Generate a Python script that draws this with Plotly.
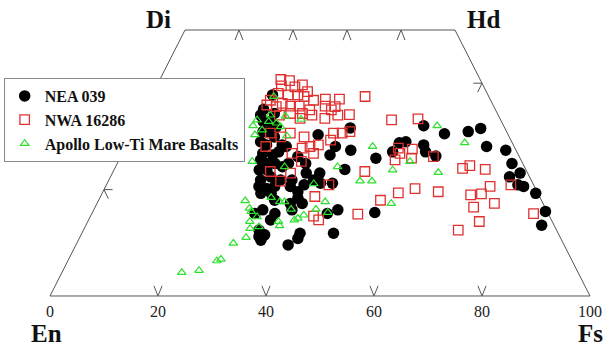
import plotly.graph_objects as go

# ---------------- data (Fs, Wo in mol%) ----------------
nea_fs = [22.3, 22.0, 24.4, 23.1, 24.4, 26.0, 24.0, 25.0, 26.6, 24.5, 25.9, 28.8, 29.7, 26.0, 28.0,
          26.2, 27.7, 29.2, 31.7, 26.9, 28.3, 29.7, 28.1, 31.8, 33.9, 28.4, 30.0, 31.3, 34.2, 29.4,
          31.3, 36.1, 36.6, 35.9, 37.9, 38.4, 34.5, 32.8, 34.9, 35.8, 36.7, 36.7, 38.0, 31.3, 33.9,
          33.7, 30.2, 33.1, 34.0, 33.8, 39.3, 40.5, 40.4, 46.6, 45.2, 43.6, 39.5, 41.7, 38.6, 38.8,
          42.0, 42.7, 39.8, 47.4, 52.3, 49.9, 50.3, 51.4, 53.2, 55.0, 56.0, 58.3, 57.8, 62.0, 64.0,
          66.8, 70.7, 73.1, 75.5, 73.9, 77.4, 76.2, 80.3, 83.8, 84.4, 28.8, 32.5, 32.6, 22.0, 30.9]
nea_wo = [37.8, 35.1, 34.3, 32.8, 32.8, 31.8, 30.9, 30.9, 29.9, 29.0, 28.4, 28.4, 28.1, 26.8, 26.5,
          25.6, 24.9, 24.9, 24.9, 23.7, 23.7, 22.4, 21.8, 21.8, 21.8, 20.6, 20.2, 20.6, 20.6, 19.3,
          19.3, 19.6, 20.9, 23.1, 21.8, 23.1, 30.3, 26.2, 24.9, 17.4, 18.4, 16.2, 17.4, 16.2, 15.5,
          14.3, 15.5, 11.2, 11.5, 10.5, 9.6, 10.8, 11.8, 11.8, 16.2, 15.5, 21.2, 21.2, 26.5, 28.1,
          27.4, 23.8, 31.6, 25.9, 15.7, 27.1, 28.8, 29.0, 32.0, 28.4, 27.1, 26.3, 30.5, 30.9, 31.5,
          28.1, 27.4, 24.9, 23.1, 22.4, 20.6, 20.9, 19.3, 15.9, 13.3, 27.1, 12.4, 18.0, 34.0, 24.3]

nwa_fs = [22.4, 24.1, 23.1, 25.7, 26.9, 28.5, 25.2, 27.0, 28.3, 23.2, 22.4, 22.2, 24.1, 24.9, 26.7,
          28.3, 30.6, 30.4, 29.6, 27.4, 25.5, 29.6, 31.5, 32.5, 35.1, 35.0, 33.1, 34.6, 36.3, 38.4,
          34.2, 39.6, 46.7, 51.5, 25.5, 27.8, 32.1, 35.5, 34.1, 32.8, 37.2, 38.8, 40.1, 25.9, 31.4,
          33.9, 29.1, 31.9, 33.0, 35.4, 37.3, 46.6, 51.1, 50.6, 51.4, 53.3, 54.0, 57.9, 64.4, 65.5,
          68.7, 41.2, 39.7, 41.3, 42.6, 49.3, 52.2, 54.8, 57.5, 62.1, 68.4, 70.3, 71.2, 74.9, 70.1,
          73.6, 72.5, 69.4, 81.8, 29.2]
nwa_wo = [40.7, 40.5, 39.5, 39.3, 39.7, 38.4, 37.8, 37.8, 37.5, 38.1, 36.8, 35.9, 35.6, 36.2, 35.7,
          35.7, 35.0, 36.8, 34.3, 34.3, 34.0, 33.4, 34.0, 37.0, 37.0, 35.6, 35.7, 35.0, 34.0, 34.1,
          33.4, 37.5, 33.1, 33.3, 30.6, 29.9, 29.9, 28.4, 28.1, 27.8, 30.6, 30.6, 30.9, 28.1, 26.8,
          25.3, 23.4, 21.6, 23.1, 26.8, 29.3, 23.4, 25.6, 27.8, 26.8, 27.6, 25.9, 26.2, 24.0, 24.5,
          23.8, 20.9, 18.7, 15.0, 14.3, 15.4, 18.0, 19.4, 20.2, 19.6, 19.0, 19.2, 20.6, 20.9, 16.7,
          17.4, 14.0, 12.4, 15.5, 30.6]

apollo_fs = [22.2, 25.2, 27.6, 28.2, 29.0, 30.8, 30.7, 30.0, 29.3, 30.9, 32.2, 27.2, 28.7, 31.7, 33.7,
             34.6, 36.5, 35.3, 35.9, 38.1, 38.6, 39.4, 41.1, 42.1, 43.6, 38.3, 31.3, 24.8, 22.7, 21.8,
             21.6, 23.7, 22.8, 24.1, 25.7, 23.8, 26.7, 26.8, 28.8, 29.9, 41.1, 46.6, 48.8, 45.7, 51.6,
             54.5, 54.0, 55.7, 60.3, 62.4]
apollo_wo = [4.4, 4.8, 6.6, 6.9, 9.9, 11.0, 12.7, 14.0, 15.9, 14.9, 13.0, 17.9, 16.5, 18.5, 17.7,
             17.7, 16.3, 14.0, 13.2, 14.3, 14.6, 15.2, 16.3, 17.7, 15.7, 21.1, 24.3, 25.3, 37.5, 33.1,
             32.0, 31.2, 30.3, 32.8, 32.5, 34.0, 33.8, 31.8, 30.1, 33.2, 24.3, 21.6, 21.6, 28.1, 23.7,
             17.4, 25.3, 32.0, 23.2, 28.8]

axis_ticks = [0, 20, 40, 60, 80, 100]
bottom_ticks = [20, 40, 60, 80]      # Fs at Wo = 0
top_ticks = [10, 20, 30, 40]         # Fs at Wo = 50
left_ticks = [20]                    # Wo at Fs = 0
right_ticks = [40]                   # Wo at En = 0
corner_labels = ["Di", "Hd", "En", "Fs"]


def px(fs, wo):
    return fs + wo / 2.0


SERIF = "Liberation Serif, Times New Roman, serif"
fig = go.Figure()

# quadrilateral outline
cx = [px(0, 0), px(100, 0), px(50, 50), px(0, 50), px(0, 0)]
cy = [0, 0, 50, 50, 0]
fig.add_trace(go.Scatter(x=cx, y=cy, mode="lines", line=dict(color="#555555", width=1),
                         showlegend=False, hoverinfo="skip"))

# chevron ticks
tx, ty = [], []
dx, dy = 0.75, 1.9
for f in bottom_ticks:
    x0 = px(f, 0)
    tx += [x0 - dx, x0, x0 + dx, None]
    ty += [dy, 0, dy, None]
for f in top_ticks:
    x0 = px(f, 50)
    tx += [x0 - dx, x0, x0 + dx, None]
    ty += [50 - dy, 50, 50 - dy, None]
for w in left_ticks:
    x0 = px(0, w)
    tx += [x0 + 1.6, x0, x0 + 0.8, None]
    ty += [w, w, w - 1.7, None]
for w in right_ticks:
    x0 = px(100 - w, w)
    tx += [x0 - 1.6, x0, x0 - 0.8, None]
    ty += [w, w, w - 1.7, None]
fig.add_trace(go.Scatter(x=tx, y=ty, mode="lines", line=dict(color="#555555", width=1),
                         showlegend=False, hoverinfo="skip"))

fig.add_trace(go.Scatter(
    x=[px(f, w) for f, w in zip(nea_fs, nea_wo)], y=nea_wo, mode="markers", name="NEA 039",
    marker=dict(symbol="circle", size=11.5, color="black")))
fig.add_trace(go.Scatter(
    x=[px(f, w) for f, w in zip(nwa_fs, nwa_wo)], y=nwa_wo, mode="markers", name="NWA 16286",
    marker=dict(symbol="square-open", size=9.5, color="#e0302f", line=dict(width=1.3))))
fig.add_trace(go.Scatter(
    x=[px(f, w) for f, w in zip(apollo_fs, apollo_wo)], y=apollo_wo, mode="markers",
    name="Apollo Low-Ti Mare Basalts",
    marker=dict(symbol="triangle-up-open", size=7.5, color="#2ee02e", line=dict(width=1.2))))

annotations = []
for v in axis_ticks:
    annotations.append(dict(x=px(v, 0), y=-3.0, text=str(v), showarrow=False,
                            font=dict(family=SERIF, size=16, color="#222222")))
label_pos = [(px(0, 50) - 5, 51.9), (px(50, 50) + 5.2, 51.9), (-0.6, -7.1), (100, -7.1)]
for t, (lx, ly) in zip(corner_labels, label_pos):
    annotations.append(dict(x=lx, y=ly, text="<b>%s</b>" % t, showarrow=False,
                            font=dict(family=SERIF, size=25, color="#111111")))

fig.update_layout(
    width=613, height=346, margin=dict(l=0, r=0, t=0, b=0),
    paper_bgcolor="white", plot_bgcolor="white",
    xaxis=dict(range=[-9.26, 104.26], visible=False),
    yaxis=dict(range=[-9.40, 55.64], visible=False),
    annotations=annotations,
    legend=dict(x=0.006, y=0.7746, xanchor="left", yanchor="top",
                bgcolor="white", bordercolor="#888888", borderwidth=1,
                font=dict(family=SERIF, size=16, color="#111111", weight="bold"),
                tracegroupgap=0, itemwidth=30),
)

fig.write_html("out.html")
